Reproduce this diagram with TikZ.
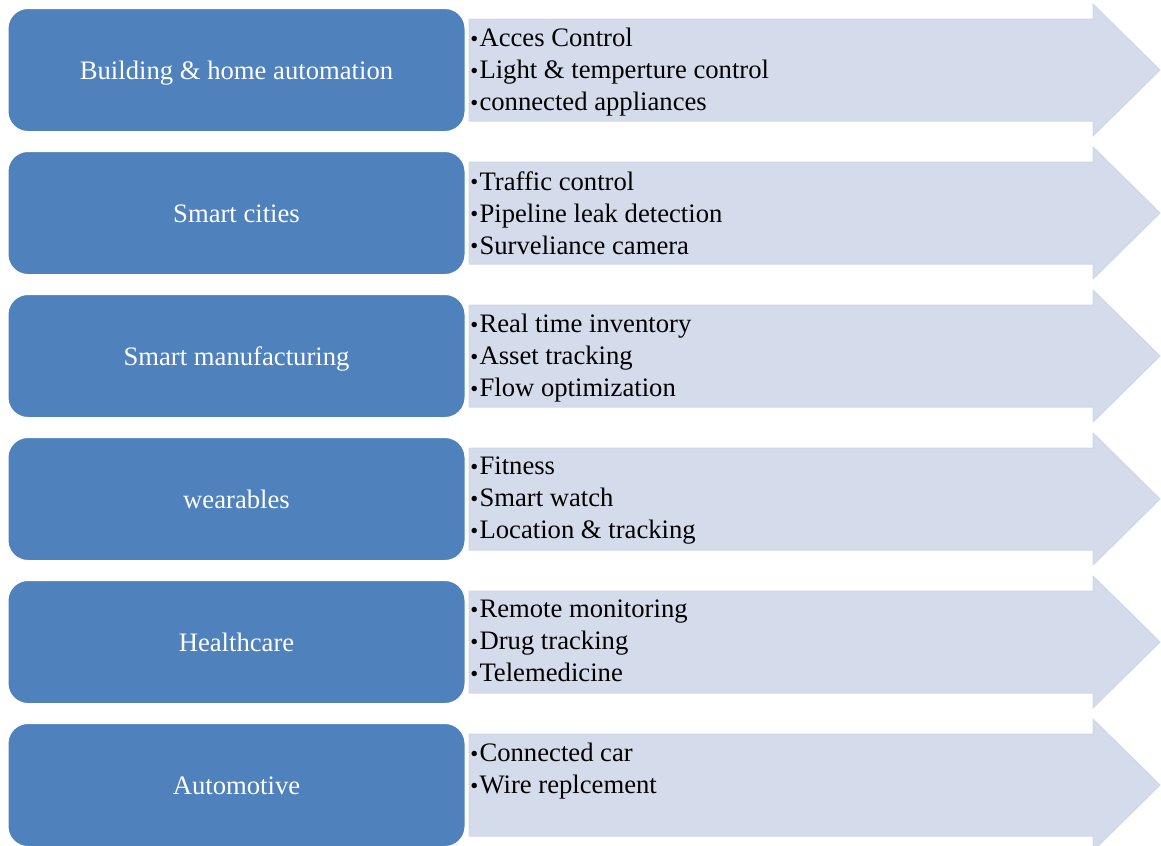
\documentclass[tikz,border=0pt]{standalone}
\usepackage{fontspec}
\setmainfont{Liberation Serif}
\usepackage{tikz}
\definecolor{boxblue}{HTML}{4F81BD}
\definecolor{arrowfill}{HTML}{D4DBEA}
\definecolor{arrowline}{HTML}{CFD7E8}
% one light arrow behind the items of a row, centred at height #1
\newcommand{\itemarrow}[1]{
        \filldraw[arrowbg] (469,#1-51) -- (1093,#1-51) -- (1093,#1-66) -- (1160,#1)
                -- (1093,#1+66) -- (1093,#1+51) -- (469,#1+51) -- cycle;
}
\newcommand{\dotitem}{\raisebox{0.5pt}{\scalebox{0.85}{•}}\hspace{1pt}}
\tikzset{
        area/.style={shape=rectangle, rounded corners=15pt, draw=white, line width=0.75pt,
                fill=boxblue, text=white, minimum width=457*0.75pt, minimum height=123*0.75pt,
                text height=16pt, text depth=2pt,
                font=\fontsize{20}{24}\selectfont},
        items/.style={anchor=north west, inner sep=0pt, align=left,
                font=\fontsize{20}{24}\selectfont},
        arrowbg/.style={fill=arrowfill, draw=arrowline, line width=0.75pt}
}

\begin{document}
\begin{tikzpicture}[x=0.75pt, y=-0.75pt]
        \useasboundingbox (0,0) rectangle (1161,846);

        \itemarrow{70}
        \itemarrow{213}
        \itemarrow{356}
        \itemarrow{499}
        \itemarrow{642}
        \itemarrow{785}

        \node[area] (a) at (236.5, 70)     {Building \& home automation};
        \node[area] (b) at (236.5, 213)    {Smart cities};
        \node[area] (c) at (236.5, 356)    {Smart manufacturing};
        \node[area] (d) at (236.5, 499)    {wearables};
        \node[area] (e) at (236.5, 642)    {Healthcare};
        \node[area] (f) at (236.5, 785)    {Automotive};

        %items of each area
        \node[items] (ia) at (470, 70-42)  {\dotitem Acces Control\\\dotitem Light \& temperture control\\\dotitem connected appliances};
        \node[items] (ib) at (470, 213-42) {\dotitem Traffic control\\\dotitem Pipeline leak detection\\\dotitem Surveliance camera};
        \node[items] (ic) at (470, 356-42) {\dotitem Real time inventory\\\dotitem Asset tracking\\\dotitem Flow optimization};
        \node[items] (id) at (470, 499-42) {\dotitem Fitness\\\dotitem Smart watch\\\dotitem Location \& tracking};
        \node[items] (ie) at (470, 642-42) {\dotitem Remote monitoring\\\dotitem Drug tracking\\\dotitem Telemedicine};
        \node[items] (if) at (470, 785-42) {\dotitem Connected car\\\dotitem Wire replcement};
\end{tikzpicture}
\end{document}
